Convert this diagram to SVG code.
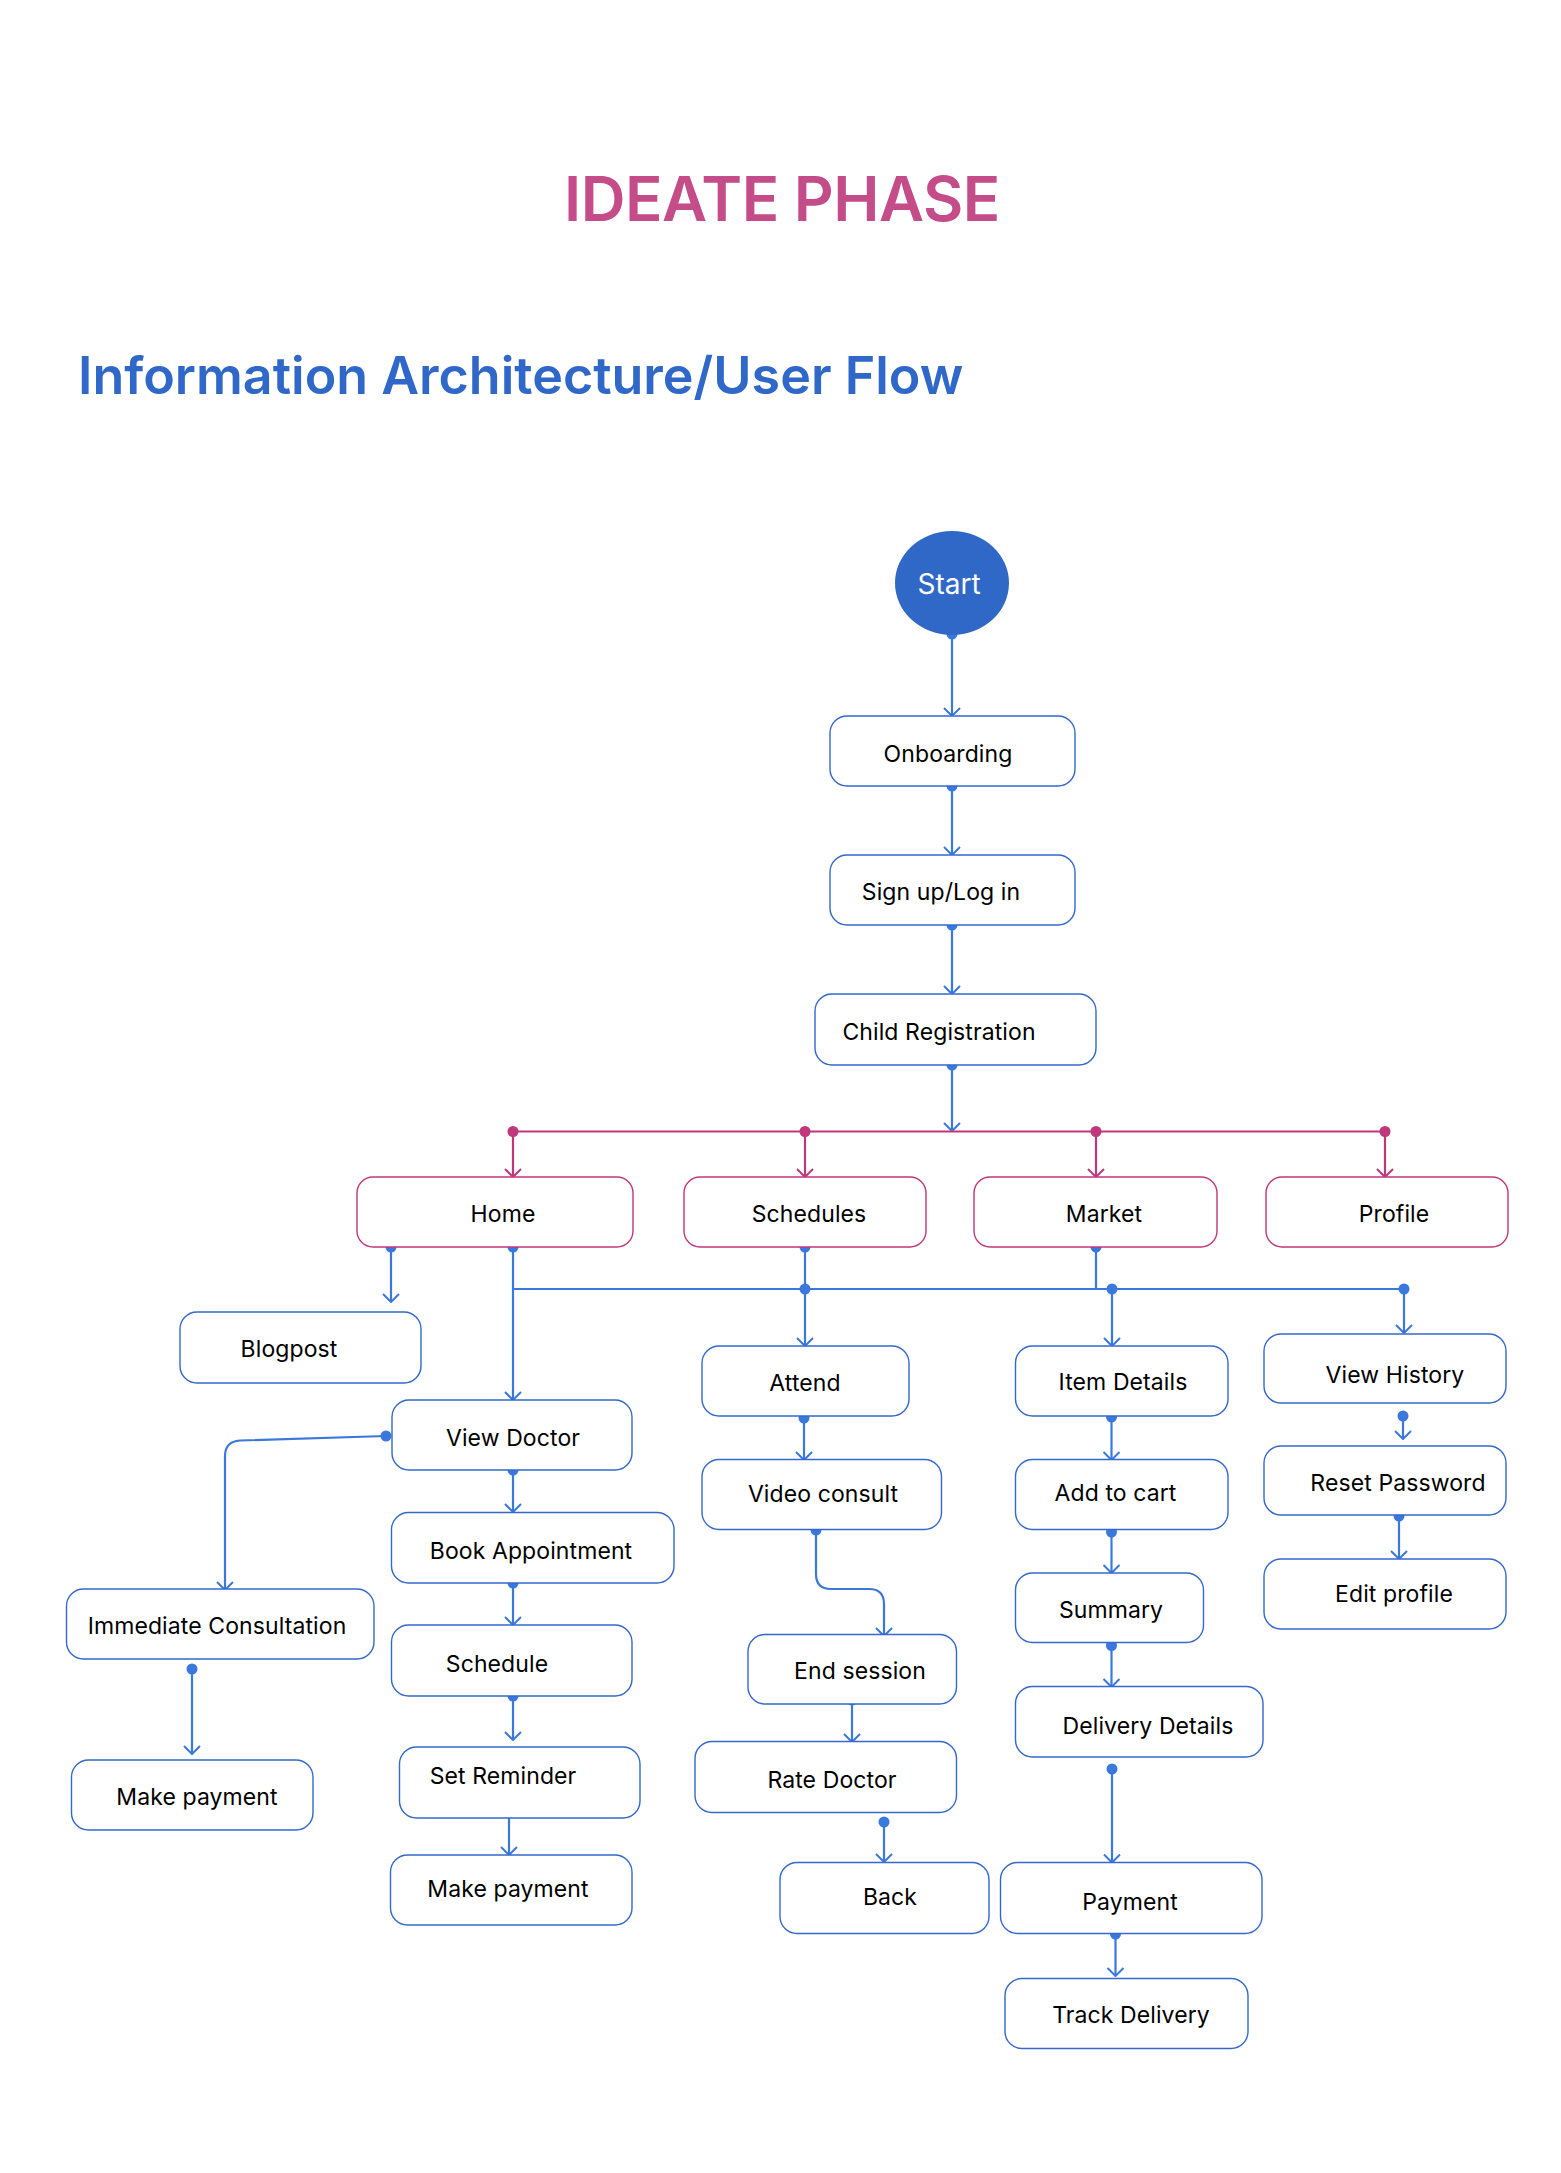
<svg xmlns="http://www.w3.org/2000/svg" width="1561" height="2173" viewBox="0 0 1561 2173">
<style>
.bg{fill:#ffffff}
.nb{fill:#ffffff;stroke:#3568CC;stroke-width:1.4}
.nm{fill:#ffffff;stroke:#C1377B;stroke-width:1.4}
.t{font-family:Inter,"Noto Sans",sans-serif;font-size:23px;fill:#000000;text-anchor:middle;letter-spacing:0.1px}
.cb{fill:none;stroke:#3A78DE;stroke-width:2.2}
.cm{fill:none;stroke:#C1377B;stroke-width:2.2}
.db{fill:#3A78DE}
.dm{fill:#C1377B}
</style>
<defs>
<marker id="ab" viewBox="0 0 10 18" refX="9" refY="9" markerWidth="10" markerHeight="18" markerUnits="userSpaceOnUse" orient="auto">
<path d="M1,1 L9,9 L1,17" fill="none" stroke="#3A78DE" stroke-width="2"/>
</marker>
<marker id="am" viewBox="0 0 10 18" refX="9" refY="9" markerWidth="10" markerHeight="18" markerUnits="userSpaceOnUse" orient="auto">
<path d="M1,1 L9,9 L1,17" fill="none" stroke="#C1377B" stroke-width="2"/>
</marker>
</defs>
<rect class="bg" x="0" y="0" width="1561" height="2173"/>
<text x="782" y="221" font-family="Inter,'Noto Sans',sans-serif" font-size="62" font-weight="600" fill="#C44D89" text-anchor="middle" letter-spacing="-0.5">IDEATE PHASE</text>
<text x="78" y="394" font-family="Inter,'Noto Sans',sans-serif" font-size="52" font-weight="600" fill="#3068C9" letter-spacing="0">Information Architecture/User Flow</text>

<g id="connectors">
<line class="cb" x1="952" y1="634" x2="952" y2="716" marker-end="url(#ab)"/>
<line class="cb" x1="952" y1="786" x2="952" y2="855" marker-end="url(#ab)"/>
<line class="cb" x1="952" y1="925" x2="952" y2="994" marker-end="url(#ab)"/>
<line class="cb" x1="952" y1="1065" x2="952" y2="1131" marker-end="url(#ab)"/>
<circle class="db" cx="952" cy="634" r="5.5"/>
<circle class="db" cx="952" cy="786" r="5.5"/>
<circle class="db" cx="952" cy="925" r="5.5"/>
<circle class="db" cx="952" cy="1065" r="5.5"/>

<line class="cm" x1="513" y1="1131.5" x2="1385" y2="1131.5" stroke-width="2.6"/>
<line class="cm" x1="513" y1="1131.5" x2="513" y2="1177" marker-end="url(#am)"/>
<line class="cm" x1="805" y1="1131.5" x2="805" y2="1177" marker-end="url(#am)"/>
<line class="cm" x1="1096" y1="1131.5" x2="1096" y2="1177" marker-end="url(#am)"/>
<line class="cm" x1="1385" y1="1131.5" x2="1385" y2="1177" marker-end="url(#am)"/>
<circle class="dm" cx="513" cy="1131.5" r="5.5"/>
<circle class="dm" cx="805" cy="1131.5" r="5.5"/>
<circle class="dm" cx="1096" cy="1131.5" r="5.5"/>
<circle class="dm" cx="1385" cy="1131.5" r="5.5"/>

<line class="cb" x1="391" y1="1247" x2="391" y2="1302" marker-end="url(#ab)"/>
<line class="cb" x1="513" y1="1247" x2="513" y2="1400" marker-end="url(#ab)"/>
<line class="cb" x1="513" y1="1289" x2="1404" y2="1289" stroke-width="2.6"/>
<line class="cb" x1="805" y1="1247" x2="805" y2="1346" marker-end="url(#ab)"/>
<line class="cb" x1="1096" y1="1247" x2="1096" y2="1289"/>
<line class="cb" x1="1112" y1="1289" x2="1112" y2="1346" marker-end="url(#ab)"/>
<line class="cb" x1="1404" y1="1289" x2="1404" y2="1333" marker-end="url(#ab)"/>
<circle class="db" cx="391" cy="1247" r="5.5"/>
<circle class="db" cx="513" cy="1247" r="5.5"/>
<circle class="db" cx="805" cy="1247" r="5.5"/>
<circle class="db" cx="1096" cy="1247" r="5.5"/>
<circle class="db" cx="805" cy="1289" r="5.5"/>
<circle class="db" cx="1112" cy="1289" r="5.5"/>
<circle class="db" cx="1404" cy="1289" r="5.5"/>

<line class="cb" x1="513" y1="1470" x2="513" y2="1512" marker-end="url(#ab)"/>
<line class="cb" x1="513" y1="1583" x2="513" y2="1625" marker-end="url(#ab)"/>
<line class="cb" x1="513" y1="1696" x2="513" y2="1740" marker-end="url(#ab)"/>
<line class="cb" x1="509" y1="1811" x2="509" y2="1855" marker-end="url(#ab)"/>
<circle class="db" cx="513" cy="1470" r="5.5"/>
<circle class="db" cx="513" cy="1583" r="5.5"/>
<circle class="db" cx="513" cy="1696" r="5.5"/>
<circle class="db" cx="509" cy="1811" r="5.5"/>

<path class="cb" d="M386,1436 L240,1440.5 Q225,1441.5 225,1456 L225,1590" marker-end="url(#ab)"/>
<circle class="db" cx="386" cy="1436" r="5.5"/>
<line class="cb" x1="192" y1="1669" x2="192" y2="1754" marker-end="url(#ab)"/>
<circle class="db" cx="192" cy="1669" r="5.5"/>

<line class="cb" x1="804" y1="1418" x2="804" y2="1460" marker-end="url(#ab)"/>
<circle class="db" cx="804" cy="1418" r="5.5"/>
<path class="cb" d="M816,1530 L816,1574 Q816,1589 831,1589 L869,1589 Q884,1589 884,1604 L884,1636" marker-end="url(#ab)"/>
<circle class="db" cx="816" cy="1530" r="5.5"/>
<line class="cb" x1="852" y1="1700" x2="852" y2="1742" marker-end="url(#ab)"/>
<circle class="db" cx="852" cy="1700" r="5.5"/>
<line class="cb" x1="884" y1="1822" x2="884" y2="1862" marker-end="url(#ab)"/>
<circle class="db" cx="884" cy="1822" r="5.5"/>

<line class="cb" x1="1111.5" y1="1417" x2="1111.5" y2="1460" marker-end="url(#ab)"/>
<line class="cb" x1="1111.5" y1="1532" x2="1111.5" y2="1573" marker-end="url(#ab)"/>
<line class="cb" x1="1111.5" y1="1645.5" x2="1111.5" y2="1687" marker-end="url(#ab)"/>
<line class="cb" x1="1112" y1="1769" x2="1112" y2="1862.5" marker-end="url(#ab)"/>
<line class="cb" x1="1115.5" y1="1934" x2="1115.5" y2="1976" marker-end="url(#ab)"/>
<circle class="db" cx="1111.5" cy="1417" r="5.5"/>
<circle class="db" cx="1111.5" cy="1532" r="5.5"/>
<circle class="db" cx="1111.5" cy="1645.5" r="5.5"/>
<circle class="db" cx="1112" cy="1769" r="5.5"/>
<circle class="db" cx="1115.5" cy="1934" r="5.5"/>

<line class="cb" x1="1403" y1="1416" x2="1403" y2="1439" marker-end="url(#ab)"/>
<line class="cb" x1="1399" y1="1516" x2="1399" y2="1559" marker-end="url(#ab)"/>
<circle class="db" cx="1403" cy="1416" r="5.5"/>
<circle class="db" cx="1399" cy="1516" r="5.5"/>
</g>

<g id="start">
<ellipse cx="952" cy="583" rx="57" ry="52" fill="#3068C7"/>
<text x="949" y="594" font-family="Inter,'Noto Sans',sans-serif" font-size="28" fill="#ffffff" text-anchor="middle">Start</text>
</g>
<g id="onboarding"><rect class="nb" x="830" y="716" width="245" height="70" rx="17"/><text class="t" x="948" y="762">Onboarding</text></g>
<g id="signup"><rect class="nb" x="830" y="855" width="245" height="70" rx="17"/><text class="t" x="941" y="900">Sign up/Log in</text></g>
<g id="child-registration"><rect class="nb" x="815" y="994" width="281" height="71" rx="17"/><text class="t" x="939" y="1040">Child Registration</text></g>

<g id="home"><rect class="nm" x="357" y="1177" width="276" height="70" rx="16"/><text class="t" x="503" y="1222">Home</text></g>
<g id="schedules"><rect class="nm" x="684" y="1177" width="242" height="70" rx="16"/><text class="t" x="809" y="1222">Schedules</text></g>
<g id="market"><rect class="nm" x="974" y="1177" width="243" height="70" rx="16"/><text class="t" x="1104" y="1222">Market</text></g>
<g id="profile"><rect class="nm" x="1266" y="1177" width="242" height="70" rx="16"/><text class="t" x="1394" y="1222">Profile</text></g>

<g id="blogpost"><rect class="nb" x="180" y="1312" width="241" height="71" rx="17"/><text class="t" x="289" y="1357">Blogpost</text></g>
<g id="view-doctor"><rect class="nb" x="392" y="1400" width="240" height="70" rx="17"/><text class="t" x="513" y="1446">View Doctor</text></g>
<g id="immediate-consultation"><rect class="nb" x="66.5" y="1589" width="307.5" height="70" rx="17"/><text class="t" x="217" y="1634">Immediate Consultation</text></g>
<g id="make-payment-1"><rect class="nb" x="71.5" y="1760" width="241.5" height="70" rx="17"/><text class="t" x="197" y="1805">Make payment</text></g>
<g id="book-appointment"><rect class="nb" x="391.5" y="1512.5" width="282.5" height="70.5" rx="17"/><text class="t" x="531" y="1559">Book Appointment</text></g>
<g id="schedule"><rect class="nb" x="391.5" y="1625" width="240.5" height="71" rx="17"/><text class="t" x="497" y="1672">Schedule</text></g>
<g id="set-reminder"><rect class="nb" x="399.5" y="1747" width="240.5" height="71" rx="17"/><text class="t" x="503" y="1783.5">Set Reminder</text></g>
<g id="make-payment-2"><rect class="nb" x="390.5" y="1855" width="241.5" height="70" rx="17"/><text class="t" x="508" y="1897">Make payment</text></g>

<g id="attend"><rect class="nb" x="702" y="1346" width="207" height="70" rx="17"/><text class="t" x="805" y="1390.5">Attend</text></g>
<g id="video-consult"><rect class="nb" x="702" y="1459.5" width="239.5" height="70" rx="17"/><text class="t" x="823" y="1501.5">Video consult</text></g>
<g id="end-session"><rect class="nb" x="748" y="1634.5" width="208.5" height="69.5" rx="17"/><text class="t" x="860" y="1679">End session</text></g>
<g id="rate-doctor"><rect class="nb" x="695" y="1741.5" width="261.5" height="71" rx="17"/><text class="t" x="832" y="1788">Rate Doctor</text></g>
<g id="back"><rect class="nb" x="780" y="1862.5" width="209" height="71" rx="17"/><text class="t" x="890" y="1905">Back</text></g>

<g id="item-details"><rect class="nb" x="1015.5" y="1346" width="212.5" height="70" rx="17"/><text class="t" x="1123" y="1390">Item Details</text></g>
<g id="add-to-cart"><rect class="nb" x="1015.5" y="1459.5" width="212.5" height="70" rx="17"/><text class="t" x="1115.5" y="1501">Add to cart</text></g>
<g id="summary"><rect class="nb" x="1015.5" y="1573" width="188" height="69.5" rx="17"/><text class="t" x="1111" y="1618">Summary</text></g>
<g id="delivery-details"><rect class="nb" x="1015.5" y="1686.5" width="247.5" height="70.5" rx="17"/><text class="t" x="1148" y="1733.5">Delivery Details</text></g>
<g id="payment"><rect class="nb" x="1000.5" y="1862.5" width="261.5" height="71" rx="17"/><text class="t" x="1130" y="1909.5">Payment</text></g>
<g id="track-delivery"><rect class="nb" x="1005" y="1978.5" width="243" height="70" rx="17"/><text class="t" x="1131" y="2023">Track Delivery</text></g>

<g id="view-history"><rect class="nb" x="1264" y="1334" width="242" height="69" rx="17"/><text class="t" x="1395" y="1383">View History</text></g>
<g id="reset-password"><rect class="nb" x="1264" y="1446" width="242" height="69" rx="17"/><text class="t" x="1398" y="1491">Reset Password</text></g>
<g id="edit-profile"><rect class="nb" x="1264" y="1559" width="242" height="70" rx="17"/><text class="t" x="1394" y="1602">Edit profile</text></g>
</svg>
